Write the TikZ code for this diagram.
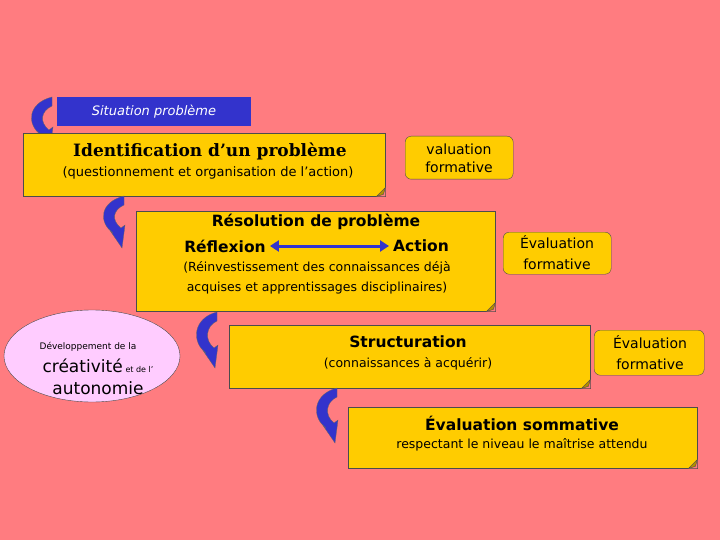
\documentclass[tikz,border=0pt]{standalone}
\usepackage{fontspec}
\setmainfont{DejaVu Sans}
\newfontfamily\slab{DejaVu Serif}
\usetikzlibrary{shapes.geometric,arrows.meta}
\definecolor{bg}{HTML}{FF7C80}
\definecolor{yel}{HTML}{FFCC00}
\definecolor{blu}{HTML}{3333CC}
\definecolor{pnk}{HTML}{FFCCFF}
\begin{document}
\begin{tikzpicture}[x=1pt,y=-1pt,
 box/.style={draw=black!70,fill=yel,rectangle,anchor=north west,inner sep=0pt},
 ev/.style={draw=black!70,fill=yel,rounded corners=6pt,anchor=north west,inner sep=0pt,align=center},
 fold/.style={fill=yel!70!black,draw=black!70},
 carrow/.style={draw=black!60,fill=blu,line width=0.3pt},
 txt/.style={inner sep=0pt,align=center},
 sub/.style={font=\fontsize{12.5}{15}\selectfont},
 ttl/.style={font=\bfseries\fontsize{15.5}{18}\selectfont}]
\fill[bg] (0,0) rectangle (720,540);
\useasboundingbox (0,0) rectangle (720,540);
\newcommand\foldbox[5]{% name, x, y, w, h
 \node[box,minimum width=#4,minimum height=#5] (#1) at (#2,#3) {};
 \fill[bg] ([xshift=-9pt]#1.south east) -- (#1.south east) -- ([yshift=9pt]#1.south east) -- cycle;
 \draw[fold] ([xshift=-9pt]#1.south east) -- ([shift={(-2pt,2pt)}]#1.south east) -- ([yshift=9pt]#1.south east) -- cycle;}
\newcommand\carr[3]{% x, ytop, ybot
 \filldraw[carrow] (#1+12,#2) .. controls (#1-12,#2+6) and (#1-14,#3-26) .. (#1+1,#3-15) -- (#1-3,#3-19) -- (#1+10,#3) -- (#1+13,#3-23) -- (#1+9,#3-20) .. controls (#1-1,#3-28) and (#1+1,#2+14) .. (#1+12,#2+9) -- cycle;}
% situation
\node[fill=blu,anchor=north west,minimum width=194pt,minimum height=29pt,inner sep=0pt] (sit) at (57,97) {};
\node[txt,text=white,font=\itshape\fontsize{13}{15}\selectfont] (sitt) at (154,112) {Situation problème};
\carr{40}{97}{150}
% identification
\foldbox{id}{23}{133}{362}{63}
\node[txt,font=\slab\bfseries\fontsize{17}{19}\selectfont] (idt) at (210,151) {Identification d’un problème};
\node[txt,font=\fontsize{13}{15}\selectfont] (ids) at (208,173) {(questionnement et organisation de l’action)};
\node[ev,minimum width=108pt,minimum height=43pt] (ev1) at (405,136) {};
\node[txt,sub,font=\fontsize{14}{18}\selectfont] (ev1t) at (459,158) {valuation\\formative};
\carr{112}{196}{248}
% resolution
\foldbox{res}{136}{211}{359}{100}
\node[txt,ttl] (rest) at (316,222) {Résolution de problème};
\node[txt,ttl] (refl) at (225,246) {Réflexion};
\node[txt,ttl] (act) at (421,246) {Action};
\draw[blu,line width=3pt,{Triangle[length=9pt,width=11pt]}-{Triangle[length=9pt,width=11pt]}] ([xshift=4pt]refl.east) -- ([xshift=-4pt]act.west);
\node[txt,font=\fontsize{12.5}{20}\selectfont] (ress) at (317,278) {(Réinvestissement des connaissances déjà\\acquises et apprentissages disciplinaires)};
\node[ev,minimum width=108pt,minimum height=42pt] (ev2) at (503,232) {};
\node[txt,font=\fontsize{14}{21}\selectfont] (ev2t) at (557,253) {Évaluation\\formative};
% ellipse
\node[ellipse,draw=black!70,fill=pnk,minimum width=176pt,minimum height=92pt] (ell) at (92,356) {};
\node[txt,font=\fontsize{9}{10}\selectfont] (e1) at (88,347) {Développement de la};
\node[txt] (e2) at (98,366) {\fontsize{17}{19}\selectfont créativité\,\fontsize{8}{10}\selectfont et de l’};
\node[txt,font=\fontsize{17}{19}\selectfont] (e3) at (98,388) {autonomie};
\carr{205}{312}{368}
% structuration
\foldbox{str}{229}{325}{361}{63}
\node[txt,ttl] (strt) at (408,342) {Structuration};
\node[txt,sub] (strs) at (408,364) {(connaissances à acquérir)};
\node[ev,minimum width=110pt,minimum height=45pt] (ev3) at (594,330) {};
\node[txt,font=\fontsize{14}{21}\selectfont] (ev3t) at (650,353) {Évaluation\\formative};
\carr{325}{388}{443}
% sommative
\foldbox{som}{348}{407}{349}{61}
\node[txt,ttl] (somt) at (522,423) {Évaluation sommative};
\node[txt,sub] (soms) at (522,445) {respectant le niveau le maîtrise attendu};
\end{tikzpicture}
\end{document}
